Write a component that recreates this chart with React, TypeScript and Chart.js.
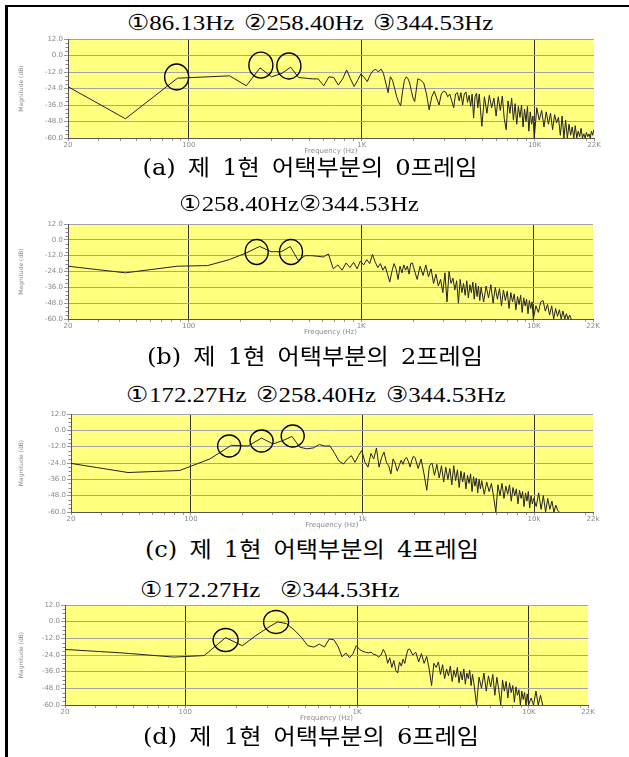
import React, { useEffect, useRef } from "react";
import { Chart, registerables } from "chart.js";

Chart.register(...registerables);

// ---------- frequency grid (Hz) ----------
const FREQ_LOW = [20, 43, 86, 129, 172, 215, 258, 301, 345, 388, 431, 474, 517, 560, 603, 646, 689, 732, 775, 818, 861, 904, 947, 990, 1034, 1077, 1120, 1163, 1206, 1249, 1292, 1335, 1378, 1421, 1464, 1507, 1550, 1593, 1636, 1679, 1723, 1766, 1809, 1852, 1895, 1938, 1981];
const FREQ_MID = [2024, 2110, 2196, 2283, 2369, 2455, 2541, 2627, 2713, 2799, 2886, 2972, 3058, 3144, 3230, 3316, 3402, 3489, 3575, 3661, 3747, 3833, 3919, 4005, 4091, 4178, 4264, 4350, 4436, 4522, 4608, 4694, 4780, 4867, 4953];
const FREQ_HIGH = [5125, 5297, 5470, 5642, 5814, 5986, 6159, 6331, 6503, 6675, 6848, 7020, 7192, 7364, 7537, 7709, 7881, 8053, 8226, 8398, 8570, 8742, 8915, 9087, 9259, 9431, 9604, 9776, 9948];
const FREQ_TOP = [10293, 10637, 10982, 11326, 11671, 12016, 12360, 12705, 13049, 13394, 13738, 14083, 14427, 14772, 15117, 15461, 15806, 16150, 16495, 16839, 17184, 17528, 17873, 18218, 18562, 18907, 19251, 19596, 19940, 20285, 20629, 20974, 21318, 21663, 22007];

// ---------- (a) frame 0 magnitudes (dB) ----------
const A_LOW = [-22.7, -46, -16.5, -15.5, -14.8, -22, -9, -15.5, -13, -8.5, -16, -16.5, -17, -17, -22, -15.5, -16, -21.5, -17, -10.5, -17, -22.5, -18, -13.4, -16, -19, -14, -11, -10, -12, -9.8, -13, -20, -27, -15.5, -18, -24, -30, -34, -36.5, -26, -18, -15.5, -17, -20, -26, -31];
const A_MID = [-33.5, -17, -18, -20, -28, -39.5, -30, -26, -31, -36, -28, -26, -26.5, -30, -28, -33, -38, -28, -27, -33, -27, -36, -28, -26.5, -34, -29, -37, -28, -45.5, -30, -27.5, -38, -28, -40, -51.5];
const A_HIGH = [-30, -42, -29, -38, -31, -44, -30, -40, -29.5, -46, -54, -33, -42, -31, -47, -35, -50, -37, -45, -36, -52, -39, -48, -37, -55, -41, -50, -44, -60];
const A_TOP = [-38, -47, -40, -52, -41, -50, -42, -54, -43, -49, -45, -58, -44, -60, -47, -60, -50, -58, -52, -60, -51, -60, -55, -59, -53, -60, -57, -60, -56, -59, -57, -60, -55, -58, -54];

// ---------- (b) frame 2 ----------
const B_LOW = [-20, -25, -20, -19.5, -15, -10, -5, -9, -9, -5, -15.5, -12, -12, -12.5, -13, -10.7, -22, -19, -23, -17.5, -21, -17, -22, -16, -19, -15, -18, -11, -17, -21, -18, -23, -20, -26, -32, -24, -18, -22, -30, -20, -25, -19, -23, -20, -26, -18, -17.5];
const B_MID = [-22, -30, -20, -27, -19, -28, -22, -33, -26, -35, -30, -40, -25, -47, -24, -33, -29, -38, -31, -48, -30, -40, -33, -42, -31, -44, -34, -40, -32, -45, -33, -43, -35, -46, -36];
const B_HIGH = [-47, -35, -44, -34, -48, -36, -45, -37, -50, -38, -46, -39, -52, -40, -47, -41, -53, -43, -49, -42, -55, -44, -50, -45, -56, -46, -52, -47, -60];
const B_TOP = [-50, -55, -47, -46, -54, -49, -57, -50, -60, -52, -58, -53, -60, -54, -60, -56, -60, -57, -60];

// ---------- (c) frame 4 ----------
const C_LOW = [-24.3, -31, -29.5, -21, -11, -11.5, -5.7, -10, -7.4, -4.5, -12.4, -13.6, -12.9, -10.4, -11.6, -11.4, -17, -22.8, -24.7, -21, -18.6, -23.5, -18.6, -14.8, -23.5, -27, -17, -21, -13, -27, -20, -16, -23.5, -26, -32, -21, -24, -30, -26, -22, -25, -21, -20, -23, -27, -22, -19];
const C_MID = [-20, -28, -21, -32, -44, -26, -24, -33, -25, -35, -26, -38, -27, -36, -28, -40, -26, -37, -29, -42, -30, -38, -31, -43, -33, -39, -32, -45, -34, -41, -35, -46, -36, -43, -37];
const C_HIGH = [-47, -38, -45, -39, -49, -60, -40, -48, -39, -50, -41, -47, -40, -52, -42, -48, -43, -54, -44, -50, -45, -56, -46, -52, -45, -57, -48, -54, -50];
const C_TOP = [-56, -46, -58, -48, -60, -50, -58, -52, -60, -55, -59, -60];

// ---------- (d) frame 6 ----------
const D_LOW = [-20, -22.5, -25.5, -24.4, -11.5, -17.3, -10, -4.5, -0.2, -1.4, -6, -11.2, -17.3, -18.3, -16.2, -18.3, -12.5, -13, -17.8, -25.3, -22.5, -26, -23, -17.3, -20, -21.3, -22, -22.5, -22, -23.5, -24, -25.5, -24, -20, -23, -30, -26, -33, -28, -35, -37, -29, -32, -27, -30, -24, -20];
const D_MID = [-19.7, -24, -22, -29, -23, -30, -25, -34, -46, -30, -33, -29, -38, -31, -41, -34, -39, -32, -43, -35, -40, -33, -44, -36, -42, -34, -45, -37, -41, -35, -46, -38, -44, -52, -60];
const D_HIGH = [-40, -48, -37, -50, -39, -47, -38, -53, -40, -49, -60, -42, -50, -43, -55, -44, -51, -46, -58, -47, -53, -49, -60, -50, -56, -51, -60, -52, -60];
const D_TOP = [-55, -60, -50, -60, -53, -60];

// ---------- circled peaks (Hz, dB) ----------
const A_MARK_F = [85, 261, 379];
const A_MARK_DB = [-15.6, -7, -7.6];
const B_MARK_F = [248, 392];
const B_MARK_DB = [-9.2, -9.2];
const C_MARK_F = [167, 258, 392];
const C_MARK_DB = [-11.5, -7.8, -4.2];
const D_MARK_F = [172, 338];
const D_MARK_DB = [-13.2, -0.2];

// ---------- axes ----------
const X_TICKS = [20, 30, 40, 50, 60, 70, 80, 90, 100, 200, 300, 400, 500, 600, 700, 800, 900, 1000, 2000, 3000, 4000, 5000, 6000, 7000, 8000, 9000, 10000, 20000, 22050];
const X_MAJOR = [100, 1000, 10000];
const X_LABEL_VALUES = [20, 100, 1000, 10000, 22050];
const X_LABELS_UPPER = ["20", "100", "1K", "10K", "22K"];
const X_LABELS_LOWER = ["20", "100", "1k", "10k", "22k"];
const Y_MINOR = [9, 6, 3, -3, -6, -9, -15, -18, -21, -27, -30, -33, -39, -42, -45, -51, -54, -57];

const TITLES = [
  "①86.13Hz ②258.40Hz ③344.53Hz",
  "①258.40Hz②344.53Hz",
  "①172.27Hz ②258.40Hz ③344.53Hz",
  "①172.27Hz  ②344.53Hz",
];
const CAPTIONS = [
  "(a) 제 1현 어택부분의 0프레임",
  "(b) 제 1현 어택부분의 2프레임",
  "(c) 제 1현 어택부분의 4프레임",
  "(d) 제 1현 어택부분의 6프레임",
];

const PANELS = [
  { low: A_LOW, mid: A_MID, high: A_HIGH, top: A_TOP, markF: A_MARK_F, markDb: A_MARK_DB, labels: X_LABELS_UPPER },
  { low: B_LOW, mid: B_MID, high: B_HIGH, top: B_TOP, markF: B_MARK_F, markDb: B_MARK_DB, labels: X_LABELS_UPPER },
  { low: C_LOW, mid: C_MID, high: C_HIGH, top: C_TOP, markF: C_MARK_F, markDb: C_MARK_DB, labels: X_LABELS_LOWER },
  { low: D_LOW, mid: D_MID, high: D_HIGH, top: D_TOP, markF: D_MARK_F, markDb: D_MARK_DB, labels: X_LABELS_UPPER },
];

// layout (pixels)
const LAYOUT = [
  { plotLeft: 68, plotRight: 594, plotTop: 39, plotBottom: 138, titleX: 310, titleY: 23, capX: 310, capY: 168, rx: 12, ry: 13 },
  { plotLeft: 68, plotRight: 593, plotTop: 224, plotBottom: 319, titleX: 299, titleY: 204, capX: 315, capY: 357, rx: 11.5, ry: 12.5 },
  { plotLeft: 71, plotRight: 593, plotTop: 414, plotBottom: 512, titleX: 316, titleY: 395, capX: 312, capY: 550, rx: 11.5, ry: 11 },
  { plotLeft: 65, plotRight: 588, plotTop: 605, plotBottom: 705, titleX: 270, titleY: 590, capX: 311, capY: 737, rx: 12.5, ry: 11.5 },
];

const PAD_TOP = 12;
const AXIS_H = 22;
const W = 629;
const SMALL_FONT = "DejaVu Sans";

function Spectrum({ idx }: { idx: number }) {
  const ref = useRef<HTMLCanvasElement | null>(null);
  const L = LAYOUT[idx];
  const P = PANELS[idx];
  const h = L.plotBottom - L.plotTop + PAD_TOP + AXIS_H;

  useEffect(() => {
    const canvas = ref.current;
    if (!canvas) return;
    const points: { x: number; y: number }[] = [];
    const blocks: [number[], number[]][] = [
      [FREQ_LOW, P.low],
      [FREQ_MID, P.mid],
      [FREQ_HIGH, P.high],
      [FREQ_TOP, P.top],
    ];
    for (const [fs, vs] of blocks) {
      for (let i = 0; i < fs.length; i++) {
        const v = vs[i];
        if (v === undefined || v === null) continue;
        points.push({ x: fs[i], y: v });
      }
    }

    const decor = {
      id: "decor",
      beforeDraw(chart: any) {
        const { ctx, chartArea: a } = chart;
        ctx.save();
        ctx.fillStyle = "#ffff80";
        ctx.fillRect(a.left, a.top, a.right - a.left, a.bottom - a.top);
        ctx.restore();
      },
      afterDraw(chart: any) {
        const { ctx, chartArea: a, scales } = chart;
        const xs = scales.x;
        const ys = scales.y;
        ctx.save();
        ctx.strokeStyle = "#8c8c8c";
        ctx.lineWidth = 1;
        ctx.beginPath();
        for (const v of Y_MINOR) {
          const py = Math.round(ys.getPixelForValue(v)) + 0.5;
          ctx.moveTo(a.left - 2.5, py);
          ctx.lineTo(a.left, py);
        }
        ctx.stroke();
        ctx.strokeStyle = "#000";
        ctx.lineWidth = 1.4;
        P.markF.forEach((f, i) => {
          ctx.beginPath();
          ctx.ellipse(xs.getPixelForValue(f), ys.getPixelForValue(P.markDb[i]), L.rx, L.ry, 0, 0, Math.PI * 2);
          ctx.stroke();
        });
        ctx.restore();
      },
    };

    const chart = new Chart(canvas, {
      type: "line",
      data: {
        datasets: [
          {
            data: points,
            borderColor: "#222",
            borderWidth: 1,
            pointRadius: 0,
            tension: 0,
            fill: false,
          },
        ],
      },
      options: {
        animation: false,
        responsive: false,
        devicePixelRatio: 1,
        parsing: false,
        layout: { padding: { top: PAD_TOP, left: 0, right: W - L.plotRight, bottom: 0 } },
        plugins: { legend: { display: false }, tooltip: { enabled: false } },
        scales: {
          x: {
            type: "logarithmic",
            min: 20,
            max: 22050,
            afterBuildTicks: (s: any) => {
              s.ticks = X_TICKS.map((v) => ({ value: v }));
            },
            afterFit: (s: any) => {
              s.height = AXIS_H;
            },
            border: { display: true, color: "#555", width: 1 },
            grid: {
              drawOnChartArea: true,
              drawTicks: true,
              tickLength: 3,
              lineWidth: 1,
              color: (c: any) => (c.tick && X_MAJOR.includes(c.tick.value) ? "#333" : "rgba(0,0,0,0)"),
              tickColor: "#999",
            },
            ticks: {
              autoSkip: false,
              maxRotation: 0,
              minRotation: 0,
              padding: 0,
              color: "#8a8a8a",
              font: { family: SMALL_FONT, size: 7 },
              callback: (v: any) => {
                const k = X_LABEL_VALUES.indexOf(Number(v));
                return k >= 0 ? P.labels[k] : "";
              },
            },
            title: {
              display: true,
              text: "Frequency (Hz)",
              color: "#8a8a8a",
              font: { family: SMALL_FONT, size: 7 },
              padding: { top: 0, bottom: 5 },
            },
          },
          y: {
            type: "linear",
            min: -60,
            max: 12,
            afterFit: (s: any) => {
              s.width = L.plotLeft;
            },
            border: { display: true, color: "#555", width: 1 },
            grid: {
              color: "#a3a3a3",
              lineWidth: 1,
              tickLength: 4,
              tickColor: "#999",
            },
            ticks: {
              stepSize: 12,
              padding: 1,
              color: "#8a8a8a",
              font: { family: SMALL_FONT, size: 7 },
              callback: (v: any) => Number(v).toFixed(1),
            },
            title: {
              display: true,
              text: "Magnitude (dB)",
              color: "#8a8a8a",
              font: { family: SMALL_FONT, size: 6 },
              padding: { top: 18, bottom: 0 },
            },
          },
        },
      } as any,
      plugins: [decor],
    });
    return () => chart.destroy();
  }, []);

  return (
    <canvas
      ref={ref}
      width={W}
      height={h}
      style={{ position: "absolute", left: 0, top: L.plotTop - PAD_TOP, width: W, height: h }}
    />
  );
}

export default function App() {
  return (
    <div
      style={{
        position: "fixed",
        left: 0,
        top: 0,
        width: W,
        height: 757,
        background: "#fff",
        overflow: "hidden",
      }}
    >
      <div
        style={{
          position: "absolute",
          left: 5,
          top: 5,
          width: 624,
          height: 752,
          borderLeft: "3px solid #000",
          borderTop: "2px solid #000",
          boxSizing: "border-box",
        }}
      />
      {LAYOUT.map((L, i) => (
        <React.Fragment key={i}>
          <div
            style={{
              position: "absolute",
              left: L.titleX,
              top: L.titleY - 12,
              transform: "translateX(-50%) scaleX(1.13)",
              font: '22px "Liberation Serif", serif',
              lineHeight: "24px",
              whiteSpace: "pre",
              wordSpacing: "3px",
              color: "#000",
            }}
          >
            {TITLES[i]}
          </div>
          <Spectrum idx={i} />
          <div
            style={{
              position: "absolute",
              left: L.capX,
              top: L.capY - 13,
              transform: "translateX(-50%) scaleX(1.1)",
              font: '22px "DejaVu Serif", "Noto Sans CJK KR", serif',
              lineHeight: "26px",
              whiteSpace: "pre",
              wordSpacing: "4px",
              color: "#000",
            }}
          >
            {CAPTIONS[i]}
          </div>
        </React.Fragment>
      ))}
    </div>
  );
}
